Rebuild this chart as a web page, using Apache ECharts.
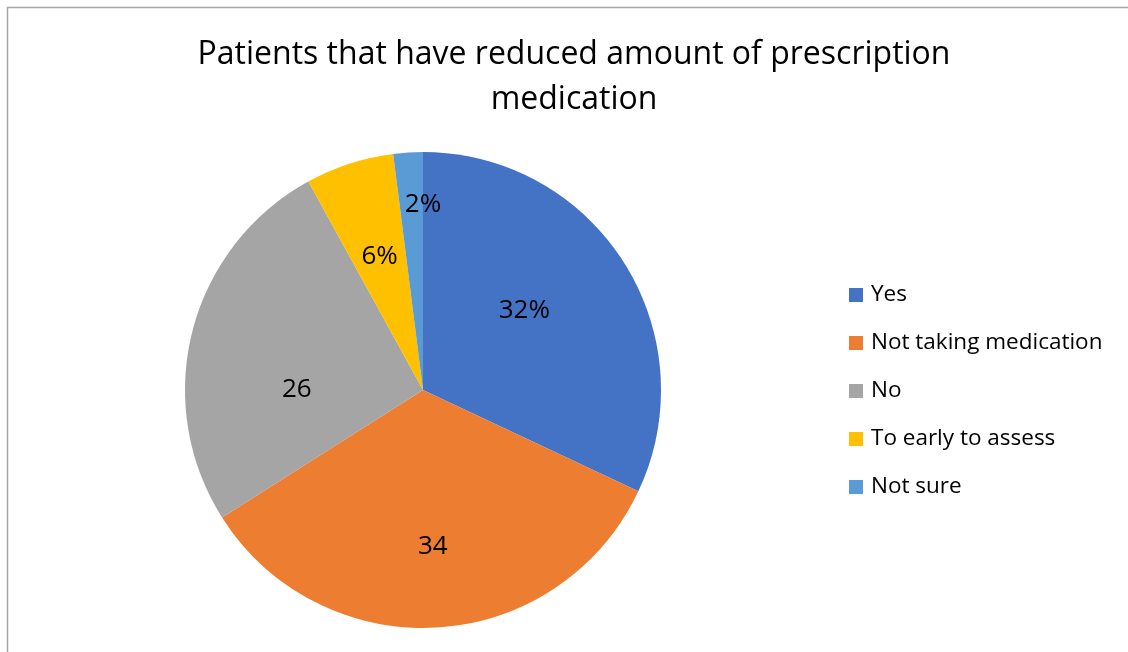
<!DOCTYPE html>
<html>
<head>
<meta charset="utf-8">
<script src="https://cdn.jsdelivr.net/npm/echarts@6/dist/echarts.min.js"></script>
<style>html,body{margin:0;padding:0;background:#fff;}#main{width:1128px;height:652px;}</style>
</head>
<body>
<div id="main"></div>
<script>
const categories = ['Yes', 'Not taking medication', 'No', 'To early to assess', 'Not sure'];
const values = [32, 34, 26, 6, 2];
const labelTexts = ['32%', '34', '26', '6%', '2%'];
const colors = ['#4472C4', '#ED7D31', '#A5A5A5', '#FFC000', '#5B9BD5'];
const titleText = 'Patients that have reduced amount of prescription\nmedication';

const FONT = '"Open Sans"';
const CENTER = [423, 390];
const RADIUS = 238;
// label placement (fraction of radius, angle shift in degrees) mimicking the original best-fit placement
const labelPlace = [[0.54, -5.6], [0.66, 0], [0.53, -14.4], [0.59, 0], [0.78, 3.6]];

const total = values.reduce((a, b) => a + b, 0);
const midAngles = [];
let acc = 0;
values.forEach(v => { midAngles.push((acc + v / 2) / total * 360); acc += v; });

const chart = echarts.init(document.getElementById('main'), null, {renderer: 'canvas'});
chart.setOption({
  backgroundColor: '#fff',
  animation: false,
  color: colors,
  graphic: [{
    type: 'polyline',
    shape: {points: [[7.5, 660], [7.5, 7.5], [1140, 7.5]]},
    style: {stroke: '#a6a6a6', lineWidth: 1.5, fill: null},
    silent: true
  }],
  title: {
    text: titleText,
    left: 569,
    top: 27,
    textAlign: 'center',
    textStyle: {fontFamily: FONT, fontSize: 32, fontWeight: 'normal', color: '#000', lineHeight: 45}
  },
  legend: {
    orient: 'vertical',
    left: 849,
    top: 283,
    padding: 0,
    icon: 'rect',
    itemWidth: 14,
    itemHeight: 14,
    itemGap: 24,
    textStyle: {fontFamily: FONT, fontSize: 22.5, color: '#000', lineHeight: 24, padding: [0, 0, 0, 3]},
    data: categories
  },
  series: [{
    type: 'pie',
    center: CENTER,
    radius: RADIUS,
    startAngle: 90,
    clockwise: true,
    avoidLabelOverlap: false,
    minShowLabelAngle: 0,
    label: {
      show: true,
      position: 'inside',
      fontFamily: FONT,
      fontSize: 26,
      color: '#000',
      formatter: p => labelTexts[p.dataIndex]
    },
    labelLayout: params => {
      const i = params.dataIndex;
      const [f, shift] = labelPlace[i];
      const a = (midAngles[i] + shift) * Math.PI / 180;
      return {
        x: CENTER[0] + f * RADIUS * Math.sin(a),
        y: CENTER[1] - f * RADIUS * Math.cos(a),
        align: 'center',
        verticalAlign: 'middle',
        hideOverlap: false
      };
    },
    labelLine: {show: false},
    itemStyle: {borderWidth: 0},
    emphasis: {disabled: true},
    data: categories.map((c, i) => ({name: c, value: values[i]}))
  }]
});
</script>
</body>
</html>
